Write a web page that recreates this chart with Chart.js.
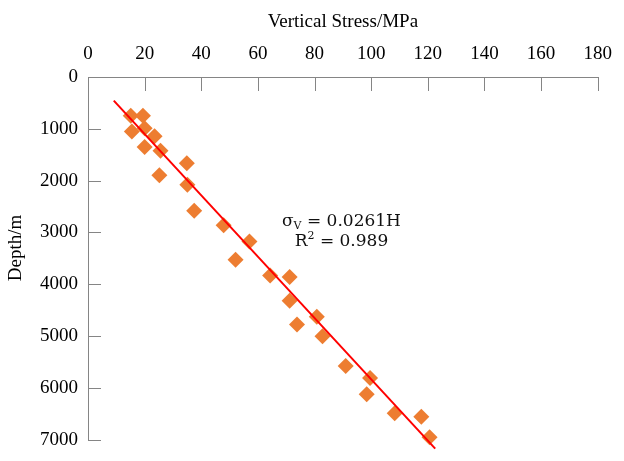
<!DOCTYPE html>
<html>
<head>
<meta charset="utf-8">
<script src="https://cdn.jsdelivr.net/npm/chart.js@4"></script>
<style>
  html, body { margin: 0; padding: 0; background: #ffffff; }
  #wrap { width: 624px; height: 461px; }
</style>
</head>
<body>
<div id="wrap"><canvas id="chartStress" width="624" height="461"></canvas></div>
<script>
// --- DATA ---
const stressMPa = [15.1, 19.4, 15.5, 20.0, 23.5, 20.0, 25.6, 34.9, 25.2, 35.1, 37.5, 47.9, 57.0, 52.1,
  64.3, 71.2, 71.2, 73.8, 80.8, 82.8, 91.0, 99.6, 98.4, 108.3, 117.7, 120.6];
const depthM = [750, 750, 1050, 990, 1145, 1350, 1425, 1665, 1895, 2080, 2580, 2860, 3175, 3530,
  3830, 3860, 4320, 4780, 4630, 5005, 5580, 5810, 6125, 6490, 6560, 6955];

// fitted trend line end points
const fitStress = [9.1, 122.6];
const fitDepth = [457, 7173];

const xTicks = [0, 20, 40, 60, 80, 100, 120, 140, 160, 180];
const yTicks = [0, 1000, 2000, 3000, 4000, 5000, 6000, 7000];

const fitLabel = { sigma: 'σ', sub: 'V', eq: ' = 0.0261H', r: 'R', sup: '2', rEq: ' = 0.989' };
const yTitle = 'Depth/m';

const serif = 'Liberation Serif, Times New Roman, serif';
const axisGray = '#858585';

// short tick marks drawn inside the plot, y title and the fit annotation
const innerTicks = {
  id: 'innerTicks',
  afterDatasetsDraw(chart) {
    const ctx = chart.ctx;
    const xs = chart.scales.x;
    const ys = chart.scales.y;
    const area = chart.chartArea;
    ctx.save();
    ctx.strokeStyle = axisGray;
    ctx.lineWidth = 1;
    xTicks.slice(1).forEach(v => {
      const px = Math.round(xs.getPixelForValue(v)) + 0.5;
      ctx.beginPath();
      ctx.moveTo(px, area.top);
      ctx.lineTo(px, area.top + 14);
      ctx.stroke();
    });
    yTicks.slice(1).forEach(v => {
      const py = Math.round(ys.getPixelForValue(v)) + 0.5;
      ctx.beginPath();
      ctx.moveTo(area.left, py);
      ctx.lineTo(area.left + 13, py);
      ctx.stroke();
    });

    // y axis title, a bit above the middle like the original
    ctx.save();
    ctx.translate(16, ys.getPixelForValue(3300));
    ctx.rotate(-Math.PI / 2);
    ctx.font = '19px ' + serif;
    ctx.fillStyle = '#000000';
    ctx.textAlign = 'center';
    ctx.textBaseline = 'middle';
    ctx.fillText(yTitle, 0, 0);
    ctx.restore();

    // equation text
    const big = '17px DejaVu Serif, serif';
    const small = '11px DejaVu Serif, serif';
    ctx.fillStyle = '#111111';
    ctx.textBaseline = 'middle';
    ctx.textAlign = 'left';

    const cx = xs.getPixelForValue(89.5);
    const line1 = ys.getPixelForValue(2800);
    const line2 = ys.getPixelForValue(3170);

    ctx.font = big;
    const wSig = ctx.measureText(fitLabel.sigma).width;
    const wEq = ctx.measureText(fitLabel.eq).width;
    ctx.font = small;
    const wSub = ctx.measureText(fitLabel.sub).width;
    let x0 = cx - (wSig + wSub + wEq) / 2;
    ctx.font = big;
    ctx.fillText(fitLabel.sigma, x0, line1);
    ctx.font = small;
    ctx.fillText(fitLabel.sub, x0 + wSig, line1 + 4);
    ctx.font = big;
    ctx.fillText(fitLabel.eq, x0 + wSig + wSub, line1);

    const wR = ctx.measureText(fitLabel.r).width;
    const wREq = ctx.measureText(fitLabel.rEq).width;
    ctx.font = small;
    const wSup = ctx.measureText(fitLabel.sup).width;
    x0 = cx - (wR + wSup + wREq) / 2;
    ctx.font = big;
    ctx.fillText(fitLabel.r, x0, line2);
    ctx.font = small;
    ctx.fillText(fitLabel.sup, x0 + wR, line2 - 5);
    ctx.font = big;
    ctx.fillText(fitLabel.rEq, x0 + wR + wSup, line2);
    ctx.restore();
  }
};

const ctx = document.getElementById('chartStress').getContext('2d');
new Chart(ctx, {
  type: 'scatter',
  data: {
    datasets: [
      {
        label: 'Fit',
        data: fitStress.map((v, i) => ({ x: v, y: fitDepth[i] })),
        showLine: true,
        borderColor: '#ff0000',
        borderWidth: 2,
        pointRadius: 0,
        clip: false,
        order: 0
      },
      {
        label: 'Measured',
        data: stressMPa.map((v, i) => ({ x: v, y: depthM[i] })),
        pointStyle: 'rectRot',
        pointRadius: 8,
        pointBackgroundColor: '#ed7d31',
        pointBorderColor: '#ed7d31',
        pointBorderWidth: 0,
        clip: false,
        order: 1
      }
    ]
  },
  options: {
    responsive: false,
    animation: false,
    layout: { padding: { top: 0, left: 0, right: 19, bottom: 10 } },
    plugins: {
      legend: { display: false },
      tooltip: { enabled: false }
    },
    scales: {
      x: {
        type: 'linear',
        position: 'top',
        min: 0,
        max: 180,
        afterBuildTicks: (scale) => { scale.ticks = xTicks.map(v => ({ value: v })); },
        afterFit: (scale) => { scale.height = 77; },
        grid: { display: false, drawTicks: false },
        border: { display: true, color: axisGray, width: 1 },
        ticks: {
          color: '#000000',
          padding: 12,
          font: { family: serif, size: 19 },
          callback: (v) => String(v)
        },
        title: {
          display: true,
          text: 'Vertical Stress/MPa',
          color: '#000000',
          padding: { top: 11, bottom: 0 },
          font: { family: serif, size: 19 }
        }
      },
      y: {
        type: 'linear',
        reverse: true,
        min: 0,
        max: 7000,
        afterBuildTicks: (scale) => { scale.ticks = yTicks.map(v => ({ value: v })); },
        afterFit: (scale) => { scale.width = 88; },
        grid: { display: false, drawTicks: false },
        border: { display: true, color: axisGray, width: 1 },
        ticks: {
          color: '#000000',
          padding: 10,
          font: { family: serif, size: 19 },
          callback: (v) => String(v)
        },
        title: { display: false }
      }
    }
  },
  plugins: [innerTicks]
});
</script>
</body>
</html>
